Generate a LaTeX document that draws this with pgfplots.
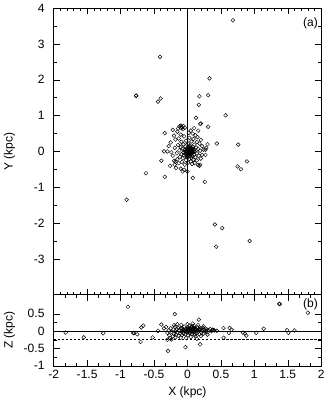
\documentclass[border=0pt]{standalone}
\usepackage{pgfplots}
\pgfplotsset{compat=1.18}
\usepackage{fontspec}
\setmainfont{Liberation Sans}
\begin{document}
\fontsize{12}{14}\selectfont
\begin{tikzpicture}
\pgfplotsset{
  every axis/.append style={
    scale only axis, width=267pt, xmin=-2, xmax=2,
    tick align=inside, major tick length=6pt, minor tick length=3pt,
    every tick/.style={black, line width=0.5pt},
    axis line style={line width=0.6pt},
    /pgf/number format/assume math mode=true,
    ticklabel style={font=\fontsize{12}{14}\selectfont},
    yticklabel style={xshift=-5pt},
    label style={font=\fontsize{12}{14}\selectfont},
  },
  every axis y label/.style={at={(axis description cs:-0.128,0.5)},rotate=90,anchor=south},
  pts/.style={only marks, mark=o, mark size=1.9pt, black, mark options={line width=0.45pt}},
}
\begin{axis}[name=top, height=286pt, ymin=-4, ymax=4,
  ytick={-3,-2,-1,0,1,2,3,4}, yticklabels={-3,-2,-1,0,1,2,3,4},
  minor y tick num=1,
  xtick={-2,-1.5,-1,-0.5,0,0.5,1,1.5,2}, xticklabels={}, minor x tick num=4,
  ylabel={Y (kpc)}]
\draw[black, line width=0.6pt] (axis cs:0,-4) -- (axis cs:0,4);
\addplot[pts] coordinates {
(0.68,3.66) (-0.41,2.64) (-0.77,1.55) (-0.765,1.56) (-0.40,1.48) (-0.44,1.39)
(0.33,2.04) (0.31,1.57) (0.18,1.54) (0.17,1.30) (0.13,0.94) (0.57,1.01)
(0.19,0.77) (0.20,0.78) (0.31,0.69) (-0.34,0.51)
(0.44,0.22) (0.76,0.19) (0.27,0.05) (-0.39,-0.26) (0.89,-0.28) (0.75,-0.42)
(0.80,-0.50) (0.18,-0.40) (-0.62,-0.61) (-0.34,-0.71) (0.08,-0.74) (0.26,-0.85)
(-0.91,-1.35) (0.41,-2.04) (0.52,-2.14) (0.93,-2.50) (0.43,-2.66)
(-0.12,0.70) (-0.10,0.72) (-0.08,0.68) (-0.06,0.71) (-0.09,0.65) (-0.04,0.66)
(-0.07,0.62) (0.10,0.65) (0.05,0.58) (-0.15,0.55) (0.02,0.52) (0.08,0.50)
(-0.10,0.47) (0.12,0.45) (-0.20,0.44) (0.15,0.40) (-0.05,0.42) (0.03,0.38)
(-0.13,0.36) (0.09,0.35) (-0.18,0.33) (0.20,0.32) (-0.02,0.30) (0.06,0.28)
(-0.09,0.27) (0.14,0.26) (-0.25,0.25) (0.18,0.22) (0.01,0.22) (-0.06,0.20)
(0.10,0.19) (-0.14,0.18) (0.04,0.16) (0.22,0.15) (-0.03,0.14) (0.08,0.13)
(-0.10,0.12) (0.13,0.11) (0.00,0.10) (0.05,0.09) (-0.07,0.08) (0.16,0.07)
(0.02,0.06) (-0.04,0.05) (0.09,0.04) (-0.12,0.03) (0.03,0.02) (0.06,0.01)
(-0.01,0.00) (0.11,-0.01) (0.04,-0.02) (-0.06,-0.03) (0.08,-0.04) (0.01,-0.05)
(0.14,-0.05) (-0.03,-0.06) (0.05,-0.07) (-0.09,-0.08) (0.10,-0.09) (0.02,-0.10)
(-0.05,-0.11) (0.07,-0.12) (0.17,-0.12) (-0.01,-0.13) (0.04,-0.14) (-0.11,-0.15)
(0.12,-0.16) (0.00,-0.17) (0.06,-0.18) (-0.07,-0.19) (0.20,-0.20) (0.03,-0.21)
(-0.15,-0.22) (0.09,-0.23) (-0.02,-0.24) (0.14,-0.25) (-0.20,-0.26) (0.05,-0.28)
(-0.08,-0.29) (0.01,-0.31) (0.11,-0.32) (-0.13,-0.33) (0.07,-0.35) (-0.04,-0.37)
(0.16,-0.38) (-0.18,-0.28) (0.22,-0.10) (0.19,0.02) (-0.16,-0.05) (-0.19,0.10)
(0.24,0.05) (-0.22,-0.12)
(0.00,-0.02) (0.02,0.00) (0.04,0.03) (0.06,-0.01) (0.03,-0.04) (-0.02,0.02)
(0.01,0.04) (0.05,0.05) (0.07,0.02) (0.00,-0.07) (0.02,-0.08) (0.04,-0.09)
(0.06,-0.06) (-0.01,0.07) (0.03,0.08) (0.08,0.07) (-0.03,-0.01) (0.09,0.00)
(0.01,-0.11) (0.05,0.11) (0.07,-0.03) (-0.02,-0.09) (0.03,0.12) (0.10,0.03)
(-0.35,0.00) (-0.30,0.00) (-0.24,-0.02) (0.19,-0.37) (-0.19,-0.37) (-0.17,-0.46)
(-0.05,-0.51) (-0.10,-0.48) (0.00,-0.56) (-0.07,-0.56) (0.30,0.20) (0.27,-0.10)
(0.28,0.10) (-0.28,0.15) (-0.22,0.60) (-0.14,0.64) (0.16,0.58) (-0.26,-0.40)
};
\node at (rel axis cs:0.96,0.948) {(a)};
\end{axis}
\begin{axis}[at={(top.south west)}, anchor=north west, height=71pt,
  ymin=-1, ymax=1.05,
  ytick={-1,-0.5,0,0.5}, yticklabels={-1,-0.5,0,0.5}, minor y tick num=1,
  xtick={-2,-1.5,-1,-0.5,0,0.5,1,1.5,2},
  xticklabels={-2,-1.5,-1,-0.5,0,0.5,1,1.5,2}, minor x tick num=2,
  xlabel={X (kpc)}, ylabel={Z (kpc)}]
\draw[black, line width=0.5pt] (axis cs:-2,0) -- (axis cs:2,0);
\draw[black, line width=0.5pt, dash pattern=on 2.5pt off 1.5pt] (axis cs:-2,-0.23) -- (axis cs:2,-0.23);
\addplot[pts] coordinates {
(-0.89,0.70) (-1.82,-0.04) (-1.55,-0.18) (-1.26,-0.06) (-0.81,-0.05) (-0.80,-0.06)
(-0.75,-0.09) (-0.69,0.11) (-0.66,0.16) (-0.70,-0.31) (-0.52,-0.18) (-0.39,0.19)
(-0.19,0.49) (-0.29,-0.57) (-0.44,0.01)
(1.38,0.78) (1.37,0.79) (1.80,0.53) (0.17,0.33) (-0.03,-0.46) (0.19,-0.38)
(0.54,0.09) (0.63,0.09) (0.54,-0.19) (0.62,-0.05) (0.66,0.04) (0.83,-0.04)
(0.86,-0.07) (0.88,-0.13) (1.03,-0.05) (1.14,0.07) (1.49,0.03) (1.51,-0.05)
(1.60,0.02) (0.44,0.01) (0.38,0.04) (0.40,0.02)
(-0.30,-0.05) (-0.28,0.02) (-0.27,-0.12) (-0.25,0.08) (-0.24,-0.02) (-0.22,-0.15)
(-0.21,0.05) (-0.20,-0.08) (-0.19,0.12) (-0.18,0.00) (-0.17,-0.10) (-0.16,0.06)
(-0.15,-0.04) (-0.14,0.10) (-0.13,-0.13) (-0.12,0.02) (-0.11,-0.06) (-0.10,0.08)
(-0.09,-0.01) (-0.08,-0.11) (-0.07,0.04) (-0.06,-0.07) (-0.05,0.13) (-0.04,0.00)
(-0.03,-0.09) (-0.02,0.06) (-0.01,-0.03) (0.00,0.10) (0.01,-0.12) (0.02,0.03)
(0.03,-0.05) (0.04,0.08) (0.05,-0.01) (0.06,0.12) (0.07,-0.08) (0.08,0.04)
(0.09,-0.03) (0.10,0.09) (0.11,-0.10) (0.12,0.01) (0.13,0.06) (0.14,-0.06)
(0.15,0.11) (0.16,-0.02) (0.17,0.05) (0.18,-0.09) (0.19,0.03) (0.20,0.08)
(0.21,-0.04) (0.22,0.02) (0.23,0.10) (0.24,-0.07) (0.25,0.04) (0.26,-0.01)
(0.27,0.07) (0.28,0.00) (0.29,0.05) (0.30,-0.03) (0.32,0.03) (0.34,0.06)
(0.36,0.00) (0.38,0.04) (0.40,0.02) (0.30,-0.10)
(-0.05,0.02) (-0.03,0.04) (0.00,0.00) (0.01,0.05) (0.02,-0.02) (0.03,0.07)
(0.04,0.01) (0.05,0.04) (0.06,-0.03) (0.07,0.02) (0.08,0.08) (0.09,0.01)
(0.10,-0.02) (0.11,0.04) (0.12,0.07) (0.13,-0.01) (-0.02,-0.01) (0.00,0.06)
(0.05,0.09) (0.07,0.14) (0.10,0.15) (0.03,0.16) (-0.08,0.09) (0.15,0.02)
(0.18,0.07)
(-0.26,-0.20) (-0.18,-0.18) (-0.10,-0.19) (-0.02,-0.20) (0.05,-0.17) (0.12,-0.15)
(0.20,-0.14) (-0.30,-0.25) (0.14,-0.22) (-0.24,-0.24)
(-0.35,0.08) (-0.32,0.12) (-0.20,0.17) (-0.15,0.20) (-0.09,0.18) (0.00,0.20)
(0.08,0.22) (0.16,0.18) (0.24,0.14)
};
\node at (rel axis cs:0.96,0.86) {(b)};
\end{axis}
\end{tikzpicture}
\end{document}
